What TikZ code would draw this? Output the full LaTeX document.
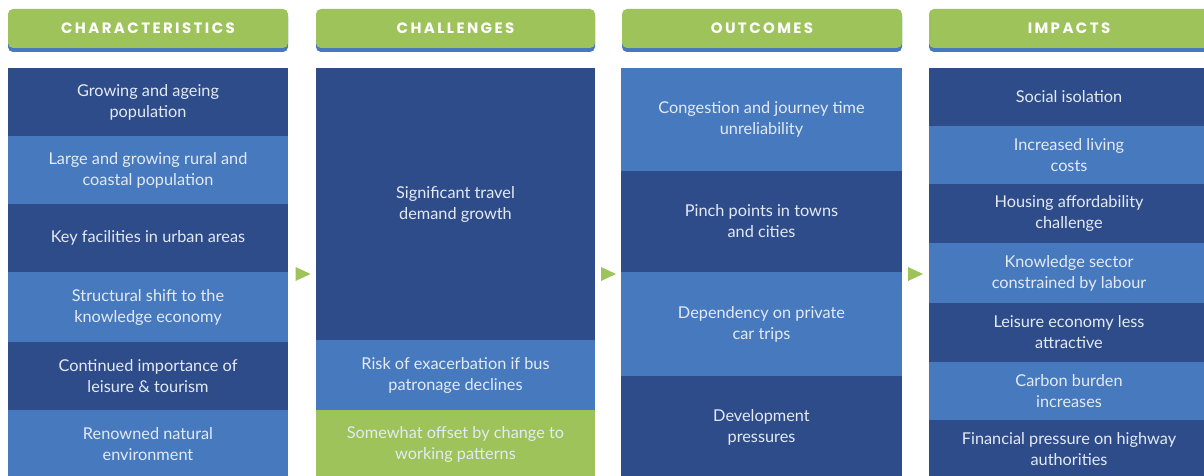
\documentclass[tikz,border=0pt]{standalone}
\usepackage{fontspec}
\setmainfont{Lato}
\newfontfamily\headfont[LetterSpace=16]{Poppins}
\definecolor{darkb}{HTML}{2E4C89}
\definecolor{lightb}{HTML}{4679BD}
\definecolor{greenc}{HTML}{9DC35A}
\definecolor{txtc}{HTML}{E4EAF4}
\tikzset{
  cellbox/.style={rectangle, inner sep=0pt, align=center, text=txtc,
    font=\fontsize{16.3}{21}\selectfont},
  headbox/.style={rectangle, rounded corners=5pt, inner sep=0pt, fill=greenc,
    text=white, font=\headfont\bfseries\fontsize{15}{17}\selectfont},
  headshadow/.style={rectangle, rounded corners=5pt, inner sep=0pt, fill=lightb},
  arrowtri/.style={fill=greenc}
}
\newcommand{\mycell}[7]{%
  \node[cellbox, fill=#6, minimum width={#4pt-#2pt}, minimum height={#5pt-#3pt}]
    (#1) at ({(#2+#4)/2},{(#3+#5)/2}) {#7};}
\newcommand{\myhead}[4]{%
  \node[headshadow, minimum width={#3pt-#2pt}, minimum height=40pt]
    (#1s) at ({(#2+#3)/2},32) {};
  \node[headbox, minimum width={#3pt-#2pt}, minimum height=39pt]
    (#1) at ({(#2+#3)/2},28.5) {#4};}
\newcommand{\mytri}[1]{%
  \fill[arrowtri] (#1) ++(-7.5,-7) -- ++(15,7) -- ++(-15,7) -- cycle;}
\begin{document}
\begin{tikzpicture}[x=1pt,y=-1pt]
\useasboundingbox[fill=white] (0,0) rectangle (1204,476);
% headers
\myhead{h1}{8}{288}{CHARACTERISTICS}
\myhead{h2}{316}{595}{CHALLENGES}
\myhead{h3}{622}{902}{OUTCOMES}
\myhead{h4}{929}{1209}{IMPACTS}
% column 1
\mycell{a1}{8}{68}{288}{136}{darkb}{Growing and ageing\\population}
\mycell{a2}{8}{136}{288}{204}{lightb}{Large and growing rural and\\coastal population}
\mycell{a3}{8}{204}{288}{272}{darkb}{Key facilities in urban areas}
\mycell{a4}{8}{272}{288}{342}{lightb}{Structural shift to the\\knowledge economy}
\mycell{a5}{8}{342}{288}{410}{darkb}{Continued importance of\\leisure \& tourism}
\mycell{a6}{8}{410}{288}{478}{lightb}{Renowned natural\\environment}
% column 2
\mycell{b1}{316}{68}{595}{340}{darkb}{Significant travel\\demand growth}
\mycell{b2}{316}{340}{595}{410}{lightb}{Risk of exacerbation if bus\\patronage declines}
\mycell{b3}{316}{410}{595}{478}{greenc}{Somewhat offset by change to\\working patterns}
% column 3
\mycell{c1}{621}{68}{902}{171}{lightb}{Congestion and journey time\\unreliability}
\mycell{c2}{621}{171}{902}{272}{darkb}{Pinch points in towns\\and cities}
\mycell{c3}{621}{272}{902}{376}{lightb}{Dependency on private\\car trips}
\mycell{c4}{621}{376}{902}{478}{darkb}{Development\\pressures}
% column 4
\mycell{d1}{929}{68}{1209}{126}{darkb}{Social isolation}
\mycell{d2}{929}{126}{1209}{184}{lightb}{Increased living\\costs}
\mycell{d3}{929}{184}{1209}{243}{darkb}{Housing affordability\\challenge}
\mycell{d4}{929}{243}{1209}{303}{lightb}{Knowledge sector\\constrained by labour}
\mycell{d5}{929}{303}{1209}{362}{darkb}{Leisure economy less\\attractive}
\mycell{d6}{929}{362}{1209}{420}{lightb}{Carbon burden\\increases}
\mycell{d7}{929}{420}{1209}{478}{darkb}{Financial pressure on highway\\authorities}
% arrows
\coordinate (t1) at (303,274);
\coordinate (t2) at (608.5,274);
\coordinate (t3) at (915.5,274);
\mytri{t1}
\mytri{t2}
\mytri{t3}
\end{tikzpicture}
\end{document}
